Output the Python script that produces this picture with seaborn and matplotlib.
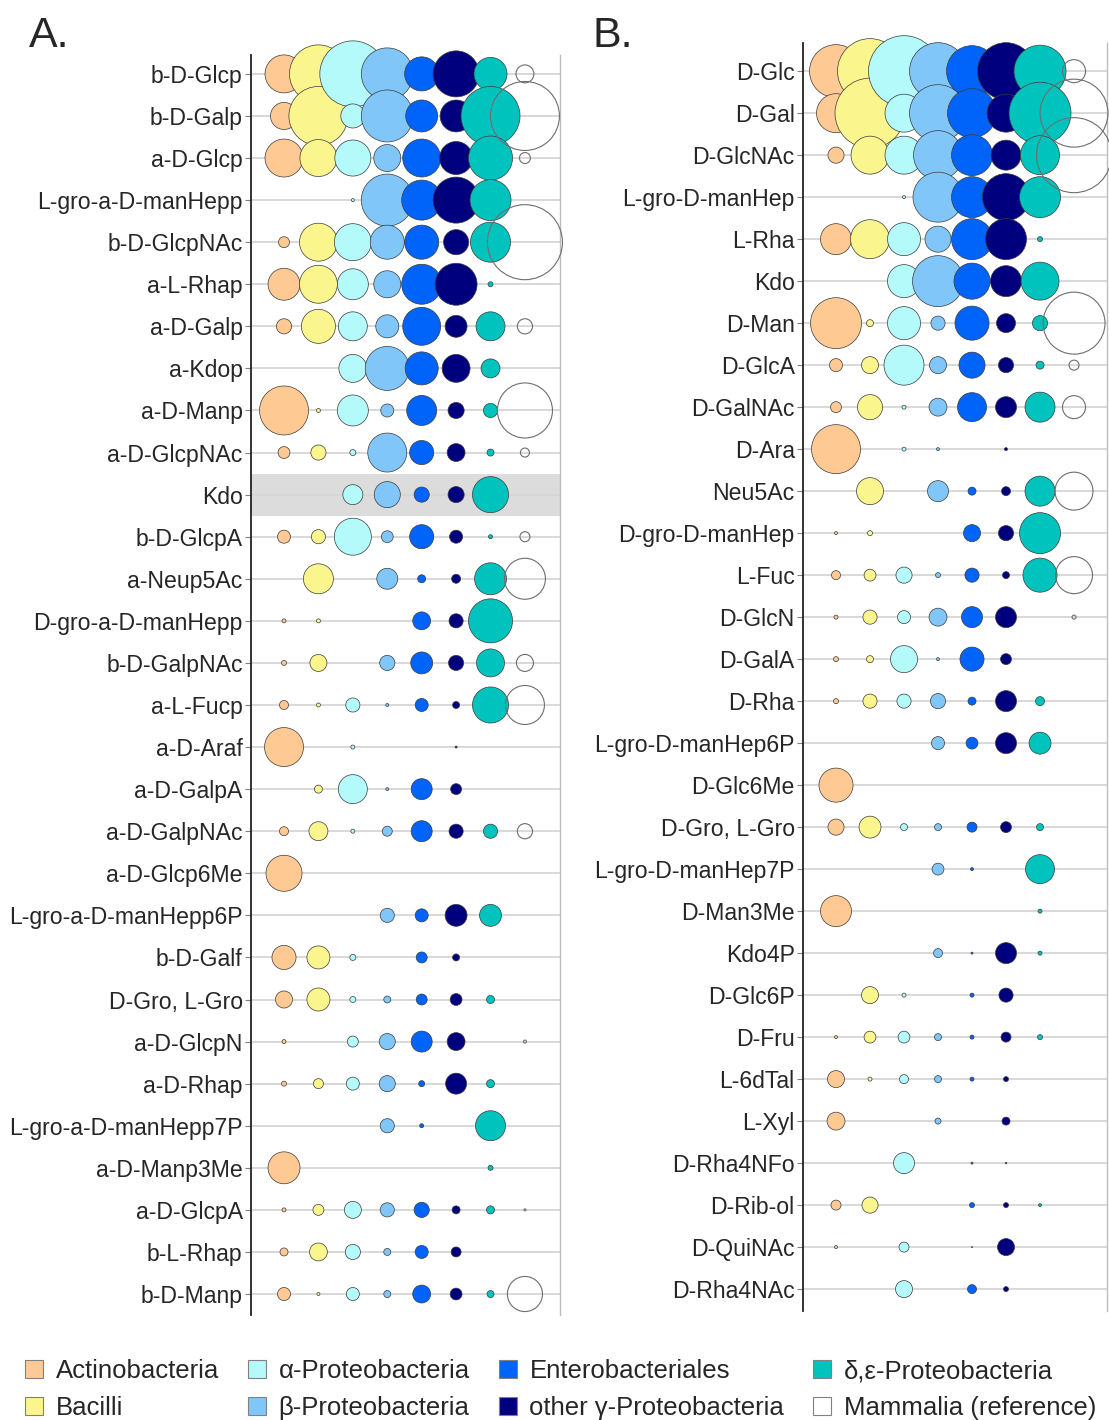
import numpy as np
import pandas as pd
import matplotlib
matplotlib.use("Agg")
import matplotlib.pyplot as plt
import matplotlib.patches as mpatches
import seaborn as sns

# --- datos: frecuencia relativa (área de la burbuja) por grupo taxonómico ---
taxa = ["Actinobacteria", "Bacilli", "α-Proteobacteria", "β-Proteobacteria",
        "Enterobacteriales", "other γ-Proteobacteria", "δ,ε-Proteobacteria",
        "Mammalia (reference)"]
colors = ["#FFC994", "#FAF58C", "#B4FAFA", "#80C6F8",
          "#0064FA", "#00007E", "#00C3BE", "#FFFFFF"]

residues_a = ["b-D-Glcp", "b-D-Galp", "a-D-Glcp", "L-gro-a-D-manHepp", "b-D-GlcpNAc",
              "a-L-Rhap", "a-D-Galp", "a-Kdop", "a-D-Manp", "a-D-GlcpNAc", "Kdo",
              "b-D-GlcpA", "a-Neup5Ac", "D-gro-a-D-manHepp", "b-D-GalpNAc", "a-L-Fucp",
              "a-D-Araf", "a-D-GalpA", "a-D-GalpNAc", "a-D-Glcp6Me",
              "L-gro-a-D-manHepp6P", "b-D-Galf", "D-Gro, L-Gro", "a-D-GlcpN",
              "a-D-Rhap", "L-gro-a-D-manHepp7P", "a-D-Manp3Me", "a-D-GlcpA",
              "b-L-Rhap", "b-D-Manp"]

actino_a = [14.4, 7.3, 14.4, 0, 1.2, 10.2, 2.3, 0, 24.0, 1.4, 0, 1.7, 0, 0.16, 0.25,
            0.81, 15.2, 0, 0.81, 13.0, 0, 5.8, 2.9, 0.16, 0.25, 0, 10.2, 0.16, 0.64, 1.7]
bacilli_a = [33.6, 34.8, 13.7, 0, 14.4, 14.4, 11.6, 0, 0.16, 2.3, 0, 2.0, 9.0, 0.16, 2.9,
             0.16, 0, 0.64, 3.6, 0, 0, 5.3, 5.3, 0, 1.0, 0, 0, 1.2, 3.2, 0.09]
alpha_a = [43.6, 5.8, 13.0, 0.09, 13.7, 9.6, 8.4, 7.8, 9.6, 0.36, 4.0, 13.7, 0, 0, 0,
           2.0, 0.16, 8.4, 0.16, 0, 0, 0.36, 0.36, 1.2, 1.7, 0, 0, 2.9, 2.3, 1.7]
beta_a = [27.0, 27.0, 7.3, 27.0, 11.6, 7.3, 5.3, 19.4, 1.7, 15.2, 6.8, 1.4, 4.4, 0, 2.3,
          0.09, 0, 0.09, 1.0, 0, 2.0, 0, 0.49, 2.6, 2.6, 2.0, 0, 2.0, 0.49, 0.49]
entero_a = [11.6, 10.2, 14.4, 16.0, 11.6, 16.0, 14.4, 10.9, 9.0, 5.8, 2.3, 5.8, 0.64, 3.2,
            4.8, 1.7, 0, 4.4, 4.4, 0, 1.7, 1.2, 1.2, 4.4, 0.36, 0.16, 0, 2.3, 1.7, 3.2]
gamma_a = [21.2, 10.2, 10.9, 21.2, 6.3, 17.6, 4.8, 7.8, 2.6, 3.2, 2.6, 1.7, 0.81, 2.0, 2.3,
           0.49, 0.04, 1.2, 2.0, 0, 4.8, 0.49, 1.4, 3.2, 4.4, 0, 0, 0.64, 1.0, 1.4]
delta_a = [10.9, 34.8, 19.4, 16.8, 16.0, 0.25, 8.4, 3.6, 2.0, 0.49, 13.0, 0.16, 10.2, 19.4,
           7.8, 13.0, 0, 0, 2.0, 0, 4.8, 0, 0.64, 0, 0.64, 9.0, 0.25, 0.64, 0, 0.49]
mammal_a = [3.2, 47.6, 1.2, 0, 56.3, 0, 2.3, 0, 30.3, 0.81, 0, 1.0, 16.8, 0, 2.9, 15.2,
            0, 0, 2.3, 0, 0, 0, 0, 0.09, 0, 0, 0, 0.04, 0, 12.3]

residues_b = ["D-Glc", "D-Gal", "D-GlcNAc", "L-gro-D-manHep", "L-Rha", "Kdo", "D-Man",
              "D-GlcA", "D-GalNAc", "D-Ara", "Neu5Ac", "D-gro-D-manHep", "L-Fuc",
              "D-GlcN", "D-GalA", "D-Rha", "L-gro-D-manHep6P", "D-Glc6Me",
              "D-Gro, L-Gro", "L-gro-D-manHep7P", "D-Man3Me", "Kdo4P", "D-Glc6P",
              "D-Fru", "L-6dTal", "L-Xyl", "D-Rha4NFo", "D-Rib-ol", "D-QuiNAc",
              "D-Rha4NAc"]

actino_b = [28.1, 15.2, 2.6, 0, 9.6, 0, 26.0, 1.7, 1.2, 24.0, 0, 0.09, 0.81, 0.16, 0.25,
            0.25, 0, 11.6, 2.6, 0, 9.6, 0, 0, 0.09, 2.9, 3.2, 0, 1.0, 0.09, 0]
bacilli_b = [42.3, 49.0, 14.4, 0, 15.2, 0, 0.49, 2.9, 6.3, 0, 7.3, 0.25, 1.4, 2.0, 0.49,
             2.0, 0, 0, 4.8, 0, 0, 0, 2.9, 1.4, 0.16, 0, 0, 2.6, 0, 0]
alpha_b = [50.4, 14.4, 14.4, 0.09, 10.9, 10.9, 10.9, 16.0, 0.16, 0.16, 0, 0, 2.6, 1.7,
           7.3, 2.0, 0, 0, 0.49, 0, 0, 0, 0.16, 1.4, 0.81, 0, 4.4, 0, 1.0, 2.9]
beta_b = [32.5, 32.5, 24.0, 25.0, 6.8, 26.0, 2.0, 2.9, 3.2, 0.09, 4.4, 0, 0.25, 3.2, 0.09,
          2.3, 1.7, 0, 0.49, 1.4, 0, 0.81, 0, 0.49, 0.49, 0.36, 0, 0, 0, 0]
entero_b = [26.0, 24.0, 16.8, 16.8, 16.8, 13.0, 11.6, 6.8, 8.4, 0, 0.64, 2.9, 2.0, 4.4,
            5.8, 0.64, 1.4, 0, 1.0, 0.09, 0, 0.04, 0.16, 0.16, 0.16, 0, 0.04, 0.25, 0.01, 0.81]
gamma_b = [32.5, 14.4, 9.0, 22.1, 16.8, 9.6, 3.6, 2.3, 4.4, 0.09, 0.81, 2.3, 0.49, 4.4,
           1.2, 4.4, 4.4, 0, 1.2, 0, 0, 4.4, 2.0, 1.0, 0.25, 0.64, 0.02, 0.25, 2.9, 0.25]
delta_b = [27.0, 38.4, 15.2, 16.8, 0.25, 14.4, 2.3, 0.64, 9.0, 0, 9.0, 16.8, 11.6, 0, 0,
           0.81, 4.8, 0, 0.49, 8.4, 0.16, 0.16, 0, 0.25, 0, 0, 0, 0.09, 0, 0]
mammal_b = [5.3, 46.2, 56.3, 0, 0, 0, 38.4, 1.0, 5.3, 0, 14.4, 0, 13.7, 0.16, 0, 0, 0, 0,
            0, 0, 0, 0, 0, 0, 0, 0, 0, 0, 0, 0]

series_a = [actino_a, bacilli_a, alpha_a, beta_a, entero_a, gamma_a, delta_a, mammal_a]
series_b = [actino_b, bacilli_b, alpha_b, beta_b, entero_b, gamma_b, delta_b, mammal_b]


def long_table(residues, series):
    # una fila por burbuja, ordenado por grupo (así se dibujan encima las series posteriores)
    rows = []
    for j, (taxon, vals) in enumerate(zip(taxa, series)):
        for i, v in enumerate(vals):
            if v > 0:
                rows.append({"taxon": taxon, "col": j, "row": i, "value": v})
    return pd.DataFrame(rows)


sns.set_theme(style="white")
plt.rcParams["font.family"] = ["Liberation Sans", "DejaVu Sans"]

fig = plt.figure(figsize=(11.09, 14.2), dpi=100)
ax_a = fig.add_axes([0.2263, 0.0739, 0.2787, 0.8874])
ax_b = fig.add_axes([0.7241, 0.0768, 0.2741, 0.8929])

palette = dict(zip(taxa, colors))
palette["Mammalia (reference)"] = (1, 1, 1, 0)  # solo contorno
vmax = 60
k = 51.84  # pt^2 por unidad de valor

for ax, residues, series, ylim, xlim in [
        (ax_a, residues_a, series_a, (29.5, -0.45), (-0.96, 8.02)),
        (ax_b, residues_b, series_b, (29.52, -0.67), (-0.97, 7.97))]:
    df = long_table(residues, series)
    bact = df[df["taxon"] != taxa[-1]]
    mam = df[df["taxon"] == taxa[-1]]

    if ax is ax_a:
        ax.axhspan(9.5, 10.5, color="#DCDCDC", zorder=0, lw=0)

    sns.scatterplot(data=bact, x="col", y="row", hue="taxon", palette=palette,
                    size="value", sizes=(0, k * vmax), size_norm=(0, vmax),
                    edgecolor="#3A3A3A", linewidth=0.5, legend=False, ax=ax,
                    clip_on=False, zorder=3)
    sns.scatterplot(data=mam, x="col", y="row", hue="taxon", palette=palette,
                    size="value", sizes=(0, k * vmax), size_norm=(0, vmax),
                    edgecolor="#6E6E6E", linewidth=0.8, legend=False, ax=ax,
                    clip_on=False, zorder=4)

    ax.set_xlim(*xlim)
    ax.set_ylim(*ylim)
    ax.set_yticks(range(len(residues)))
    ax.set_yticklabels(residues, fontsize=16.6)
    ax.set_xticks([])
    ax.set_xlabel("")
    ax.set_ylabel("")
    ax.yaxis.grid(True, color="#D6D6D6", lw=1.3)
    ax.set_axisbelow(True)
    ax.tick_params(axis="y", left=True, length=4, width=0.8, color="#808080", pad=2)
    for s in ["top", "bottom"]:
        ax.spines[s].set_visible(False)
    ax.spines["left"].set_color("#222222")
    ax.spines["left"].set_linewidth(1.3)
    ax.spines["right"].set_color("#BDBDBD")
    ax.spines["right"].set_linewidth(1.0)
    ax.patch.set_alpha(0)

fig.text(29 / 1109, 1 - 47 / 1420, "A.", fontsize=31, va="baseline")
fig.text(592 / 1109, 1 - 47 / 1420, "B.", fontsize=31, va="baseline")

handles = [mpatches.Patch(facecolor=c, edgecolor="#808080", lw=0.8) for c in colors]
fig.legend(handles, taxa, ncol=4, loc="upper left",
           bbox_to_anchor=(25 / 1109, 1 - 1359 / 1420), frameon=False,
           fontsize=18.5, handlelength=0.7, handleheight=0.7, handletextpad=0.5,
           columnspacing=1.12, labelspacing=0.52, borderpad=0, borderaxespad=0)

fig.savefig("out.png", dpi=100)
